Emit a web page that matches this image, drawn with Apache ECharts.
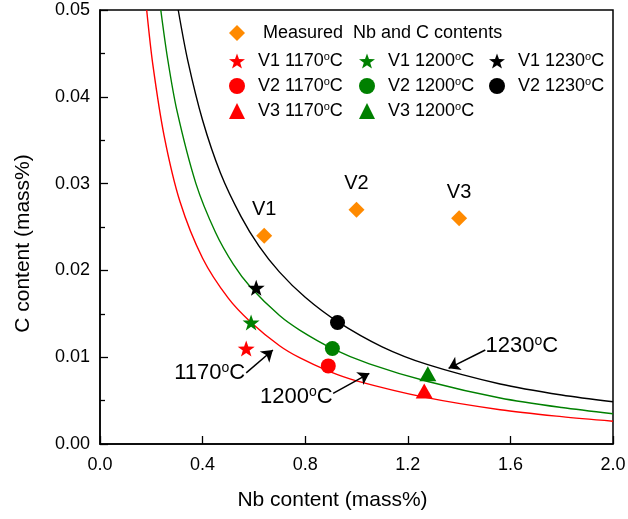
<!DOCTYPE html>
<html><head><meta charset="utf-8">
<style>html,body{margin:0;padding:0;background:#fff}#c{width:628px;height:519px}</style>
<script src="https://cdn.jsdelivr.net/npm/echarts@6/dist/echarts.min.js"></script>
</head><body><div id="c"></div>
<script>
// ---------- data ----------
const measuredName = 'Measured  Nb and C contents';
const measuredLabels = ['V1', 'V2', 'V3'];
const measuredNb = [0.64, 1.0, 1.4];
const measuredC = [0.024, 0.027, 0.026];

const curveNb1170 = [0.182, 0.206, 0.25, 0.312, 0.40, 0.50, 0.589, 0.70, 0.78, 0.891, 1.0, 1.264, 1.56, 1.8, 2.0];
const curveC1170  = [0.05, 0.0437, 0.0355, 0.0279, 0.0214, 0.0168, 0.0140, 0.01132, 0.00991, 0.0084, 0.00728, 0.0054, 0.00395, 0.00315, 0.00262];
const curveNb1200 = [0.237, 0.263, 0.30, 0.374, 0.45, 0.52, 0.589, 0.70, 0.78, 0.906, 1.05, 1.278, 1.56, 1.8, 2.0];
const curveC1200  = [0.05, 0.0445, 0.0384, 0.0300, 0.0244, 0.0207, 0.0180, 0.0148, 0.0131, 0.0110, 0.00924, 0.0072, 0.0053, 0.0042, 0.00349];
const curveNb1230 = [0.305, 0.342, 0.40, 0.47, 0.55, 0.62, 0.70, 0.80, 0.926, 1.1, 1.278, 1.56, 1.8, 2.0];
const curveC1230  = [0.05, 0.0442, 0.0373, 0.0312, 0.0262, 0.0228, 0.0198, 0.0169, 0.0141, 0.0112, 0.00914, 0.00691, 0.00564, 0.00486];

const pointNames = ['V1 1170°C', 'V2 1170°C', 'V3 1170°C', 'V1 1200°C', 'V2 1200°C', 'V3 1200°C', 'V1 1230°C', 'V2 1230°C'];
const pointNb = [0.57, 0.89, 1.264, 0.589, 0.906, 1.278, 0.609, 0.926];
const pointC  = [0.011, 0.009, 0.0061, 0.014, 0.011, 0.0081, 0.018, 0.014];

const annoText = ['1170°C', '1200°C', '1230°C'];
const annoNb = [0.566, 0.907, 1.503];
const annoC  = [0.0082, 0.0054, 0.0113];
const arrowFromNb = [0.570, 0.909, 1.502];
const arrowFromC  = [0.0082, 0.00584, 0.01083];
const arrowToNb   = [0.674, 1.050, 1.359];
const arrowToC    = [0.01083, 0.00814, 0.00872];

// ---------- styles ----------
const FONT = 'Liberation Sans';
const tempColor = {'1170': '#ff0000', '1200': '#008000', '1230': '#000000'};
function starPath() {
  const pts = [];
  for (let i = 0; i < 10; i++) {
    const r = i % 2 === 0 ? 1 : 0.40;
    const a = -Math.PI / 2 + i * Math.PI / 5;
    pts.push((r * Math.cos(a)).toFixed(4) + ' ' + (r * Math.sin(a)).toFixed(4));
  }
  return 'path://M' + pts.join(' L') + ' Z';
}
const STAR = starPath();
const shapeOf = {V1: STAR, V2: 'circle', V3: 'triangle'};
const sizeOf = {V1: [17, 16], V2: 15, V3: [17, 15]};

function supFmt(name) {
  const i = name.indexOf('°');
  if (i < 0) return '{n|' + name + '}';
  return '{n|' + name.slice(0, i) + '}{s|o}{n|' + name.slice(i + 1) + '}';
}

const series = [];
[[curveNb1170, curveC1170, '1170'], [curveNb1200, curveC1200, '1200'], [curveNb1230, curveC1230, '1230']].forEach(([xs, ys, t]) => {
  series.push({
    type: 'line', name: 'curve ' + t, data: xs.map((x, i) => [x, ys[i]]),
    showSymbol: false, smooth: 0.3, silent: true,
    lineStyle: {color: tempColor[t], width: 1.4}, z: 2
  });
});
series.push({
  type: 'scatter', name: measuredName, symbol: 'diamond', symbolSize: 16,
  itemStyle: {color: '#ff8a00', opacity: 1},
  data: measuredNb.map((x, i) => [x, measuredC[i]]),
  label: {show: true, position: 'top', distance: 8, fontFamily: FONT, fontSize: 20, color: '#000',
    formatter: p => measuredLabels[p.dataIndex]}
});
pointNames.forEach((n, i) => {
  const v = n.slice(0, 2), t = n.slice(3, 7);
  series.push({
    type: 'scatter', name: n, symbol: shapeOf[v], symbolSize: sizeOf[v],
    itemStyle: {color: tempColor[t], opacity: 1}, data: [[pointNb[i], pointC[i]]], z: 5
  });
});
series.push({
  type: 'scatter', name: 'annotations', symbolSize: 0, silent: true,
  itemStyle: {color: '#000', opacity: 1},
  data: annoText.map((t, i) => ({value: [annoNb[i], annoC[i]], label: {position: i === 2 ? 'right' : 'left'}})),
  label: {show: true, distance: 0, color: '#000', opacity: 1, formatter: p => supFmt(annoText[p.dataIndex]),
    rich: {n: {fontFamily: FONT, fontSize: 22, color: '#000'}, s: {fontFamily: FONT, fontSize: 14, color: '#000', padding: [0, 0, 10, 0]}}},
  markLine: {
    silent: true, animation: false, symbol: ['none', 'arrow'], symbolSize: 11,
    lineStyle: {color: '#000', width: 1.5, type: 'solid', opacity: 1}, label: {show: false},
    data: annoText.map((t, i) => [{coord: [arrowFromNb[i], arrowFromC[i]]}, {coord: [arrowToNb[i], arrowToC[i]]}])
  }
});

const legendText = {
  fontFamily: FONT, fontSize: 18, color: '#000', lineHeight: 20,
  rich: {n: {fontFamily: FONT, fontSize: 18, color: '#000'}, s: {fontFamily: FONT, fontSize: 11, color: '#000', padding: [0, 0, 8, 0]}}
};
function mkLegend(data, left, top, pad) {
  return {
    data, left, top, orient: 'vertical', itemGap: 5, itemWidth: 16, itemHeight: 16, padding: 0,
    selectedMode: false, formatter: supFmt, itemStyle: {opacity: 1},
    textStyle: Object.assign({}, legendText, {padding: [0, 0, 0, pad]})
  };
}

const option = {
  animation: false,
  textStyle: {fontFamily: FONT},
  grid: {left: 100, right: 15, top: 10, bottom: 75, show: true, borderColor: '#000', borderWidth: 1.5, outerBoundsMode: 'none', containLabel: false},
  legend: [
    mkLegend([measuredName], 229, 23, 13),
    mkLegend(pointNames.slice(0, 3), 229, 51, 8),
    mkLegend(pointNames.slice(3, 6), 359, 51, 8),
    mkLegend(pointNames.slice(6, 8), 489, 51, 8)
  ],
  xAxis: {
    type: 'value', min: 0, max: 2, interval: 0.4,
    name: 'Nb content (mass%)', nameLocation: 'middle', nameGap: 46,
    nameTextStyle: {fontFamily: FONT, fontSize: 21, color: '#000', padding: [0, 48, 0, 0]},
    axisLine: {show: true, lineStyle: {color: '#000', width: 1.5}},
    axisTick: {show: true, inside: true, length: 8, lineStyle: {color: '#000', width: 1.3}},
    axisLabel: {fontFamily: FONT, fontSize: 18, color: '#000', margin: 12, formatter: v => v.toFixed(1)},
    splitLine: {show: false}
  },
  yAxis: {
    type: 'value', min: 0, max: 0.05, interval: 0.01,
    name: 'C content (mass%)', nameLocation: 'middle', nameGap: 66, nameRotate: 90,
    nameTextStyle: {fontFamily: FONT, fontSize: 21, color: '#000', padding: [0, 33, 0, 0]},
    axisLine: {show: true, lineStyle: {color: '#000', width: 1.5}},
    axisTick: {show: true, inside: true, length: 8, lineStyle: {color: '#000', width: 1.3}},
    minorTick: {show: true, splitNumber: 2, length: 5, lineStyle: {color: '#000', width: 1.3}},
    axisLabel: {fontFamily: FONT, fontSize: 18, color: '#000', margin: 10, formatter: v => v.toFixed(2)},
    splitLine: {show: false}
  },
  series
};
const chart = echarts.init(document.getElementById('c'), null, {renderer: 'canvas'});
chart.setOption(option);
</script></body></html>
